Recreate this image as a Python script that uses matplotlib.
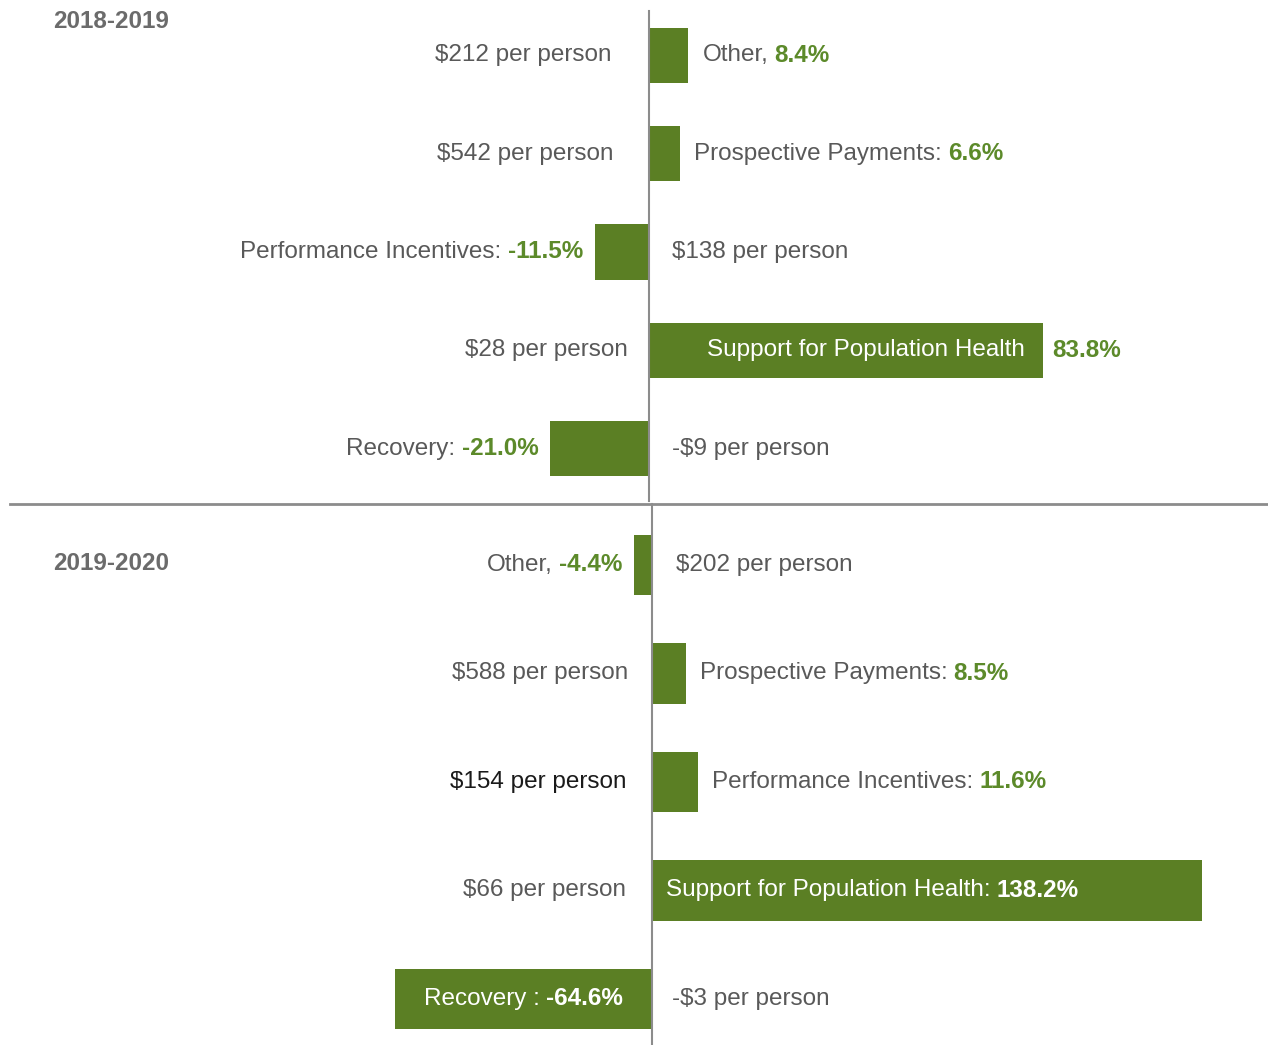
import matplotlib.pyplot as plt
from matplotlib.lines import Line2D

plt.rcParams['font.family'] = ['Liberation Sans', 'DejaVu Sans']

# data
top_names = ["Other,", "Prospective Payments:", "Performance Incentives:",
             "Support for Population Health", "Recovery:"]
top_pct = [8.4, 6.6, -11.5, 83.8, -21.0]
top_pp = ["$212", "$542", "$138", "$28", "-$9"]

bot_names = ["Other,", "Prospective Payments:", "Performance Incentives:",
             "Support for Population Health:", "Recovery :"]
bot_pct = [-4.4, 8.5, 11.6, 138.2, -64.6]
bot_pp = ["$202", "$588", "$154", "$66", "-$3"]

BAR = "#5b7f24"
GREEN = "#5c8a2a"
GRAY = "#595959"
LINE = "#8c8c8c"
FS = 17.5

W, H = 1268, 1045
fig = plt.figure(figsize=(W / 100, H / 100), dpi=100)


def px_axes(x0, y0, x1, y1):
    # pixel box (top-left origin) -> axes
    return fig.add_axes([x0 / W, 1 - y1 / H, (x1 - x0) / W, (y1 - y0) / H])


def pair(ax, name, value, x, y, dx, ha, ncolor, vcolor):
    # two-part label: name regular + value bold
    if ha == "left":
        t1 = ax.annotate(name, (x, y), xytext=(dx, 0), textcoords="offset pixels",
                         ha="left", va="center", fontsize=FS, color=ncolor)
        ax.annotate(value, (1, y), xycoords=(t1, "data"), xytext=(6, 0),
                    textcoords="offset pixels", ha="left", va="center",
                    fontsize=FS, color=vcolor, fontweight="bold")
    else:
        t2 = ax.annotate(value, (x, y), xytext=(dx, 0), textcoords="offset pixels",
                         ha="right", va="center", fontsize=FS, color=vcolor,
                         fontweight="bold")
        ax.annotate(name, (0, y), xycoords=(t2, "data"), xytext=(-6, 0),
                    textcoords="offset pixels", ha="right", va="center",
                    fontsize=FS, color=ncolor)


def panel(ax, names, pct, pp, modes, insets, pp_gap, pp_colors):
    rows = range(len(pct))
    ax.barh(rows, pct, height=0.56, color=BAR)
    for i in rows:
        v = pct[i]
        val = f"{v:.1f}%"
        if modes[i] == "out":
            if v >= 0:
                pair(ax, names[i], val, v, i, 14, "left", GRAY, GREEN)
            else:
                pair(ax, names[i], val, v, i, -12, "right", GRAY, GREEN)
        elif modes[i] == "in":
            pair(ax, names[i], val, min(v, 0), i, insets[i], "left", "white", "white")
        else:
            ax.annotate(names[i], (0, i), xytext=(insets[i], 0), textcoords="offset pixels",
                        ha="left", va="center", fontsize=FS, color="white")
            ax.annotate(val, (v, i), xytext=(9, 0), textcoords="offset pixels",
                        ha="left", va="center", fontsize=FS, color=GREEN,
                        fontweight="bold")
        lab = f"{pp[i]} per person"
        if v >= 0:
            ax.annotate(lab, (0, i), xytext=(-pp_gap[i], 0), textcoords="offset pixels",
                        ha="right", va="center", fontsize=FS, color=pp_colors[i])
        else:
            ax.annotate(lab, (0, i), xytext=(pp_gap[i], 0), textcoords="offset pixels",
                        ha="left", va="center", fontsize=FS, color=pp_colors[i])
    ax.axis("off")


# top panel
ax1 = px_axes(0, 6, W, 498)
ax1.set_ylim(4.5, -0.5)
ax1.set_xlim(-649 / 4.7, (W - 649) / 4.7)
ax1.plot([0, 0], [-0.45, 4.53], color=LINE, lw=1.5, clip_on=False)
panel(ax1, top_names, top_pct, top_pp,
      ["out", "out", "out", "split", "out"], [0, 0, 0, 58, 0],
      [37, 35, 23, 21, 23], [GRAY] * 5)

# bottom panel
ax2 = px_axes(0, 510.75, W, 1045)
ax2.set_ylim(4.425, -0.5)
ax2.set_xlim(-652 / 3.98, (W - 652) / 3.98)
ax2.plot([0, 0], [-0.56, 4.5], color=LINE, lw=1.5, clip_on=False)
panel(ax2, bot_names, bot_pct, bot_pp,
      ["out", "out", "out", "in", "in"], [0, 0, 0, 14, 29],
      [24, 24, 26, 26, 20], [GRAY, GRAY, "#1a1a1a", GRAY, GRAY])

# divider and titles
fig.add_artist(Line2D([10 / W, 1], [1 - 504 / H] * 2, color=LINE, lw=2))
fig.text(53 / W, 1 - 22 / H, "2018-2019", fontsize=17.5, fontweight="bold",
         color="#6b6b6b", va="center")
fig.text(53 / W, 1 - 563 / H, "2019-2020", fontsize=17.5, fontweight="bold",
         color="#6b6b6b", va="center")

fig.savefig("out.png", dpi=100)
